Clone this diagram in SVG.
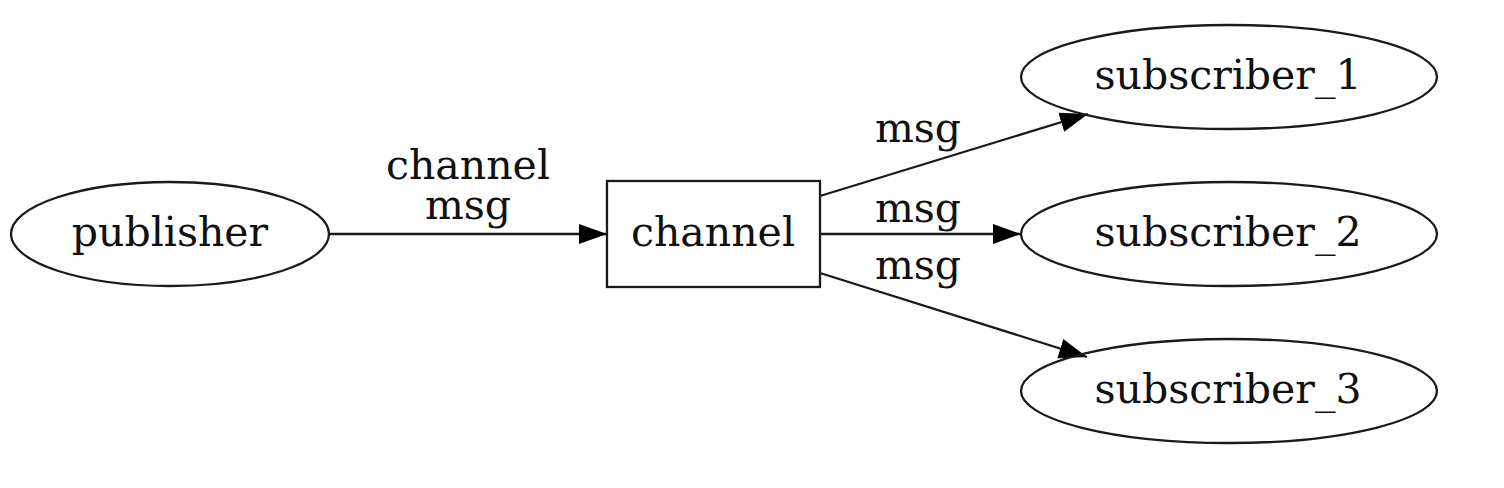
<svg xmlns="http://www.w3.org/2000/svg" width="1504" height="488" viewBox="0 0 1504 488">
<style>
.n{fill:none;stroke:#1a1a1a;stroke-width:2.3}
.t{font-family:"DejaVu Serif",serif;font-size:41px;fill:#111;text-anchor:middle}
.e{fill:none;stroke:#1a1a1a;stroke-width:2.3}
</style>
<defs>
<marker id="ah" markerUnits="userSpaceOnUse" markerWidth="30" markerHeight="22" refX="28" refY="11" orient="auto">
<path d="M0,1 L28,11 L0,21 Z" fill="#000"/>
</marker>
</defs>
<rect width="1504" height="488" fill="#fff"/>
<g id="connectors">
<line class="e" x1="329" y1="234" x2="607" y2="234" marker-end="url(#ah)"/>
<line class="e" x1="820" y1="196" x2="1088" y2="114" marker-end="url(#ah)"/>
<line class="e" x1="820" y1="234" x2="1021" y2="234" marker-end="url(#ah)"/>
<line class="e" x1="820" y1="273" x2="1087" y2="357" marker-end="url(#ah)"/>
<text class="t"><tspan x="468" y="179">channel</tspan><tspan x="468" y="219">msg</tspan></text>
<text class="t" x="918" y="142">msg</text>
<text class="t" x="918" y="222">msg</text>
<text class="t" x="918" y="279">msg</text>
</g>
<g id="publisher">
<ellipse class="n" cx="170" cy="234" rx="159" ry="52"/>
<text class="t" x="170" y="246">publisher</text>
</g>
<g id="channel">
<rect class="n" x="607" y="181" width="213" height="106"/>
<text class="t" x="713" y="246">channel</text>
</g>
<g id="subscriber_1">
<ellipse class="n" cx="1229" cy="77" rx="208" ry="52"/>
<text class="t" x="1228" y="89">subscriber_1</text>
</g>
<g id="subscriber_2">
<ellipse class="n" cx="1229" cy="234" rx="208" ry="52"/>
<text class="t" x="1228" y="246">subscriber_2</text>
</g>
<g id="subscriber_3">
<ellipse class="n" cx="1229" cy="391" rx="208" ry="52"/>
<text class="t" x="1228" y="403">subscriber_3</text>
</g>
</svg>
